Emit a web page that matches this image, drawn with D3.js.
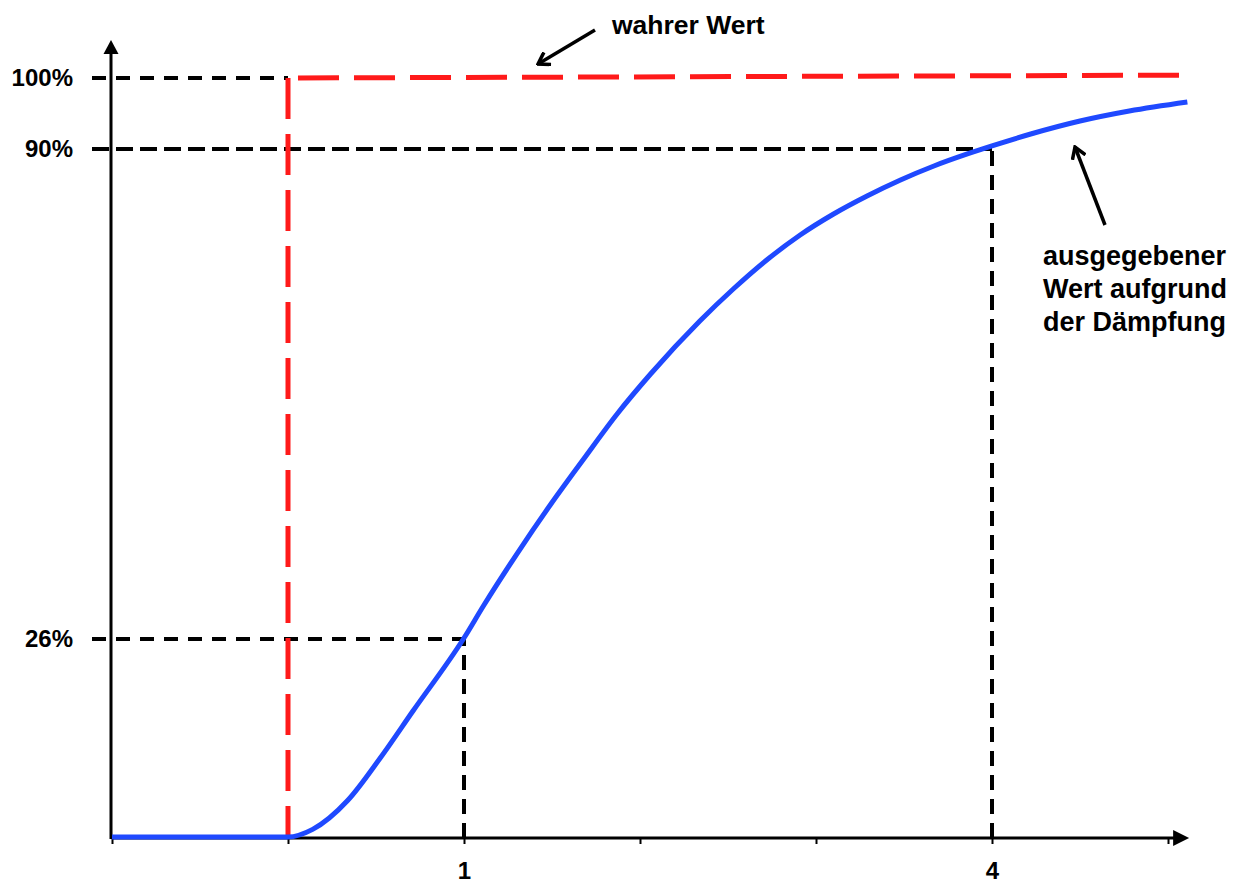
<!DOCTYPE html>
<html>
<head>
<meta charset="utf-8">
<script src="https://cdn.jsdelivr.net/npm/d3@7"></script>
<style>
  body { margin: 0; background: #fff; }
  text { font-family: "Liberation Sans", Arial, sans-serif; font-weight: bold; fill: #000; }
</style>
</head>
<body>
<div id="chart"></div>
<script>
// x in time units (tick spacing = 1), y in percent
const curveX = [-1, 0, 0.14, 0.34, 0.52, 0.71, 1, 1.11, 1.30, 1.49, 1.68, 1.87, 2.06, 2.34, 2.53, 2.72, 2.91, 3.10, 3.29, 3.48, 3.67, 3.86, 4, 4.22, 4.5, 4.78, 5.11];
const curveY = [0, 0, 1.0, 4.8, 10.19, 16.46, 26, 30.18, 36.97, 43.37, 49.38, 55.26, 60.48, 67.40, 71.58, 75.37, 78.64, 81.38, 83.73, 85.82, 87.65, 89.22, 90.3, 91.97, 93.80, 95.21, 96.48];

const trueX = [0, 0, 5.1];
const trueY = [0, 100, 100.4];

const refLevels = [100, 90, 26];
const refEnds = [0, 4, 1];
const dropX = [1, 4];
const dropY = [26, 90];

const xTicks = [-1, 0, 1, 2, 3, 4, 5];
const xTickLabels = [1, 4];

const width = 1238, height = 884;

const svg = d3.select("#chart").append("svg")
    .attr("width", width)
    .attr("height", height);

const xScale = d3.scaleLinear().domain([-1, 5]).range([112, 1168]);
// hand-drawn schematic: the percent marks are not evenly spaced
const yScale = d3.scaleLinear().domain([0, 26, 90, 100]).range([838, 639, 149, 78]);

// dashed helper lines
const refData = refLevels.map((v, i) => ({y: v, x: refEnds[i]}));
svg.append("g").selectAll("line")
    .data(refData)
    .join("line")
    .attr("x1", xScale(-1) - 20)
    .attr("x2", d => xScale(d.x))
    .attr("y1", d => yScale(d.y))
    .attr("y2", d => yScale(d.y))
    .attr("stroke", "#000")
    .attr("stroke-width", 4)
    .attr("stroke-dasharray", d => d.y === 90 ? "17,7" : "14,10");

const dropData = dropX.map((v, i) => ({x: v, y: dropY[i]}));
svg.append("g").selectAll("line")
    .data(dropData)
    .join("line")
    .attr("x1", d => xScale(d.x))
    .attr("x2", d => xScale(d.x))
    .attr("y1", yScale(0))
    .attr("y2", d => yScale(d.y))
    .attr("stroke", "#000")
    .attr("stroke-width", 4)
    .attr("stroke-dasharray", "15,9");

// x axis
const xAxis = d3.axisBottom(xScale)
    .tickValues(xTicks)
    .tickSize(6)
    .tickPadding(18)
    .tickFormat(d => xTickLabels.includes(d) ? d : "");

const gx = svg.append("g")
    .attr("transform", `translate(0,${yScale(0)})`)
    .call(xAxis);
gx.select(".domain").remove();
gx.selectAll(".tick line").attr("stroke", "#000").attr("stroke-width", 2);
gx.selectAll(".tick text").style("font-size", "24px").attr("fill", "#000");

const xEnd = xScale(5.12);
svg.append("line")
    .attr("x1", xScale(-1)).attr("x2", xEnd - 12)
    .attr("y1", yScale(0)).attr("y2", yScale(0))
    .attr("stroke", "#000").attr("stroke-width", 3);
svg.append("path")
    .attr("d", `M${xEnd},${yScale(0)} L${xEnd - 16},${yScale(0) - 8} L${xEnd - 16},${yScale(0) + 8} Z`)
    .attr("fill", "#000");

// y axis
const yAxis = d3.axisLeft(yScale)
    .tickValues(refLevels)
    .tickSize(0)
    .tickPadding(38)
    .tickFormat(d => d + "%");

const gy = svg.append("g")
    .attr("transform", `translate(${xScale(-1) - 1},0)`)
    .call(yAxis);
gy.select(".domain").remove();
gy.selectAll(".tick text").style("font-size", "24px").attr("fill", "#000");

const yTop = 40;
svg.append("line")
    .attr("x1", xScale(-1) - 1).attr("x2", xScale(-1) - 1)
    .attr("y1", yScale(0) + 1).attr("y2", yTop + 12)
    .attr("stroke", "#000").attr("stroke-width", 3);
svg.append("path")
    .attr("d", `M${xScale(-1) - 1},${yTop} L${xScale(-1) - 8.5},${yTop + 14} L${xScale(-1) + 6.5},${yTop + 14} Z`)
    .attr("fill", "#000");

// true value (red dashed step)
svg.append("line")
    .attr("x1", xScale(trueX[1])).attr("y1", yScale(trueY[1]))
    .attr("x2", xScale(trueX[0])).attr("y2", yScale(trueY[0]))
    .attr("stroke", "#ff1a1a").attr("stroke-width", 5)
    .attr("stroke-dasharray", "41,15");
svg.append("line")
    .attr("x1", xScale(trueX[1])).attr("y1", yScale(trueY[1]))
    .attr("x2", xScale(trueX[2])).attr("y2", yScale(trueY[2]))
    .attr("stroke", "#ff1a1a").attr("stroke-width", 5)
    .attr("stroke-dasharray", "41,15")
    .attr("stroke-dashoffset", 46);

// damped output (blue)
const curveData = curveX.map((v, i) => ({x: v, y: curveY[i]}));
const line = d3.line()
    .x(d => xScale(d.x))
    .y(d => yScale(d.y) - 1)
    .curve(d3.curveMonotoneX);
svg.append("path")
    .datum(curveData)
    .attr("d", line)
    .attr("fill", "none")
    .attr("stroke", "#1f49ff")
    .attr("stroke-width", 5);

// annotations
svg.append("defs").append("marker")
    .attr("id", "head")
    .attr("viewBox", "-12 -8 14 16")
    .attr("markerWidth", 14).attr("markerHeight", 16)
    .attr("markerUnits", "userSpaceOnUse")
    .attr("orient", "auto")
    .append("path")
    .attr("d", "M-11,-7 L0,0 L-11,7")
    .attr("fill", "none")
    .attr("stroke", "#000")
    .attr("stroke-width", 3.5);

svg.append("line")
    .attr("x1", 595).attr("y1", 30).attr("x2", 538).attr("y2", 64)
    .attr("stroke", "#000").attr("stroke-width", 3.5)
    .attr("marker-end", "url(#head)");
svg.append("text")
    .attr("x", 612).attr("y", 34)
    .style("font-size", "26.5px")
    .text("wahrer Wert");

svg.append("line")
    .attr("x1", 1105).attr("y1", 225).attr("x2", 1075).attr("y2", 147)
    .attr("stroke", "#000").attr("stroke-width", 3.5)
    .attr("marker-end", "url(#head)");

const noteLines = ["ausgegebener", "Wert aufgrund", "der Dämpfung"];
svg.append("text")
    .attr("x", 1043).attr("y", 265)
    .style("font-size", "27px")
    .selectAll("tspan")
    .data(noteLines)
    .join("tspan")
    .attr("x", 1043)
    .attr("dy", (d, i) => i === 0 ? 0 : 33)
    .text(d => d);
</script>
</body>
</html>
